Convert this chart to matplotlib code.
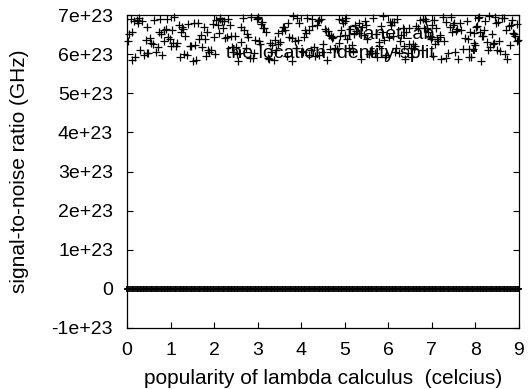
import matplotlib
matplotlib.use('Agg')
import matplotlib.pyplot as plt

plt.rcParams['font.family'] = ['Liberation Sans', 'DejaVu Sans']

# ---- data (y in units of 1e23) ----
x_planetlab = [
    0.05, 0.31, 0.62, 0.18, 0.84, 0.47, 0.12, 0.95, 0.28, 0.71,
    1.03, 1.37, 1.15, 1.62, 1.88, 1.24, 1.51, 1.79, 1.09, 1.44,
    2.02, 2.36, 2.61, 2.14, 2.89, 2.47, 2.73, 2.21, 2.95, 2.55,
    3.08, 3.33, 3.67, 3.19, 3.91, 3.42, 3.78, 3.26, 3.59, 3.85,
    4.04, 4.39, 4.68, 4.17, 4.92, 4.51, 4.26, 4.83, 4.60, 4.11,
    5.06, 5.34, 5.69, 5.21, 5.93, 5.47, 5.78, 5.13, 5.58, 5.87,
    6.01, 6.38, 6.64, 6.19, 6.91, 6.45, 6.72, 6.27, 6.55, 6.83,
    7.07, 7.32, 7.61, 7.18, 7.94, 7.49, 7.76, 7.25, 7.53, 7.88,
    8.03, 8.35, 8.66, 8.14, 8.92, 8.44, 8.71, 8.22, 8.57, 8.99,
    0.38, 0.77, 1.56, 1.97, 2.29, 2.82, 3.12, 3.51, 4.45, 4.77,
    5.27, 5.62, 6.08, 6.49, 7.02, 7.41, 7.83, 8.29, 8.61, 8.87,
    0.22, 0.56, 0.89, 1.31, 1.69, 2.08, 2.42, 2.67, 3.03, 3.37,
    3.72, 3.96, 4.22, 4.57, 4.88, 5.16, 5.41, 5.74, 6.11, 6.33,
    6.59, 6.87, 7.12, 7.37, 7.68, 7.97, 8.09, 8.39, 8.74, 8.95,
    0.09, 0.43, 0.67, 1.19, 1.48, 1.83, 2.18, 2.52, 2.78, 3.15,
    3.46, 3.82, 4.08, 4.33, 4.64, 4.97, 5.09, 5.52, 5.83, 6.16,
    6.42, 6.77, 7.05, 7.28, 7.57, 7.91, 8.18, 8.48, 8.79, 8.06,
    0.15, 0.52, 0.81, 1.27, 1.72, 2.11, 2.58, 2.98, 3.29, 3.63,
    4.01, 4.36, 4.73, 5.03, 5.38, 5.71, 6.04, 6.36, 6.69, 7.15,
    7.44, 7.72, 8.12, 8.41, 8.83, 0.99, 2.33, 4.48, 6.96, 8.53,
    0.02, 0.26, 0.49, 0.73, 0.93, 1.12, 1.34, 1.58, 1.76, 1.93,
    2.05, 2.26, 2.44, 2.69, 2.86, 3.06, 3.23, 3.48, 3.69, 3.88,
    4.06, 4.24, 4.42, 4.62, 4.86, 5.00, 5.19, 5.44, 5.65, 5.90,
    6.06, 6.24, 6.47, 6.62, 6.85, 7.00, 7.22, 7.46, 7.64, 7.86,
    8.01, 8.26, 8.46, 8.68, 8.90, 0.35, 0.60, 0.86, 1.22, 1.41,
    1.66, 1.86, 2.13, 2.40, 2.63, 2.92, 3.10, 3.39, 3.56, 3.80,
    4.13, 4.30, 4.54, 4.70, 4.94, 5.11, 5.32, 5.50, 5.80, 5.96,
    6.14, 6.30, 6.52, 6.80, 6.98, 7.10, 7.34, 7.55, 7.80, 7.99,
    8.16, 8.32, 8.50, 8.77, 8.97, 0.11, 0.45, 0.75, 1.05, 1.29,
    1.53, 1.81, 2.00, 2.24, 2.50, 2.76, 3.01, 3.31, 3.61, 3.93,
    4.19, 4.41, 4.66, 4.90, 5.24, 5.55, 5.85, 6.21, 6.57, 6.89,
    7.20, 7.52, 7.85, 8.20, 8.55, 8.85, 1.00, 3.00, 5.00, 7.00,
]
y_planetlab = [
    6.52, 6.11, 6.87, 5.93, 6.34, 6.71, 5.86, 6.45, 6.92, 6.18,
    6.63, 5.97, 6.28, 6.81, 6.07, 6.56, 5.84, 6.39, 6.95, 6.22,
    6.01, 6.74, 6.31, 6.89, 5.91, 6.48, 6.15, 6.67, 6.36, 5.82,
    6.77, 6.24, 5.95, 6.58, 6.93, 6.12, 6.42, 5.88, 6.69, 6.33,
    6.05, 6.84, 6.47, 5.99, 6.62, 6.27, 6.91, 6.14, 5.85, 6.55,
    6.38, 6.79, 6.03, 6.51, 5.92, 6.86, 6.21, 6.64, 6.09, 6.97,
    6.44, 5.89, 6.73, 6.17, 6.58, 6.02, 6.88, 6.35, 5.94, 6.66,
    6.26, 6.83, 5.87, 6.49, 6.13, 6.75, 6.41, 6.96, 6.06, 6.57,
    6.72, 6.19, 6.94, 5.83, 6.46, 6.29, 6.61, 6.85, 6.08, 6.37,
    5.98, 6.53, 6.23, 6.78, 6.43, 5.90, 6.68, 6.32, 6.89, 6.16,
    6.60, 6.04, 6.82, 6.25, 5.96, 6.70, 6.40, 6.11, 6.92, 6.54,
    6.87, 6.30, 6.65, 6.00, 6.50, 6.76, 6.19, 6.94, 6.34, 5.86,
    6.45, 6.80, 6.10, 6.59, 6.90, 6.23, 6.71, 5.93, 6.48, 6.67,
    6.14, 6.84, 6.39, 6.02, 6.62, 6.28, 6.95, 6.52, 5.89, 6.77,
    6.91, 6.36, 6.07, 6.74, 6.20, 6.56, 6.86, 6.01, 6.43, 6.68,
    6.27, 6.97, 6.63, 5.95, 6.49, 6.81, 6.15, 6.38, 6.72, 6.05,
    6.58, 6.12, 6.88, 6.33, 6.64, 5.92, 6.47, 6.79, 6.24, 6.93,
    6.85, 6.41, 5.98, 6.70, 6.18, 6.55, 6.03, 6.89, 6.30, 6.61,
    6.09, 6.76, 6.44, 6.92, 5.87, 6.51, 6.83, 6.22, 6.66, 6.35,
    6.96, 6.13, 6.57, 6.26, 6.75, 6.40, 6.90, 6.06, 6.46, 6.82,
    6.33, 6.79, 6.02, 6.58, 6.91, 6.20, 6.47, 5.85, 6.70, 6.12,
    6.88, 6.41, 6.06, 6.63, 6.96, 6.25, 5.90, 6.54, 6.81, 6.17,
    6.44, 6.73, 5.97, 6.60, 6.29, 6.86, 6.09, 6.50, 6.93, 6.37,
    6.75, 6.03, 6.66, 6.21, 6.89, 6.45, 5.88, 6.57, 6.80, 6.14,
    6.69, 6.32, 6.95, 6.00, 6.53, 6.86, 6.26, 6.62, 5.94, 6.77,
    6.40, 6.10, 6.92, 6.48, 6.71, 6.04, 6.83, 6.36, 6.59, 5.84,
    6.94, 6.19, 6.65, 6.42, 6.87, 6.08, 6.55, 6.74, 6.31, 5.99,
    6.82, 6.50, 6.16, 6.90, 6.39, 6.67, 5.91, 6.60, 6.85, 6.23,
    6.47, 6.97, 6.11, 6.72, 6.35, 6.58, 6.02, 6.89, 6.28, 6.64,
    6.79, 5.96, 6.43, 6.84, 6.18, 6.52, 6.93, 6.07, 6.70, 6.37,
    6.61, 6.88, 6.14, 6.46, 6.76, 6.01, 6.56, 6.91, 6.27, 6.68,
    6.44, 6.81, 5.93, 6.63, 6.34, 6.87, 6.22, 6.95, 6.49, 6.74,
]
x_split = [
    0.00, 0.03, 0.07, 0.11, 0.14, 0.18, 0.22, 0.25, 0.29, 0.33, 0.36, 0.40, 0.44, 0.47, 0.51,
    0.55, 0.58, 0.62, 0.66, 0.69, 0.73, 0.77, 0.80, 0.84, 0.88, 0.91, 0.95, 0.99, 1.02, 1.06,
    1.10, 1.13, 1.17, 1.21, 1.24, 1.28, 1.32, 1.35, 1.39, 1.43, 1.46, 1.50, 1.54, 1.57, 1.61,
    1.65, 1.68, 1.72, 1.76, 1.79, 1.83, 1.87, 1.90, 1.94, 1.98, 2.01, 2.05, 2.09, 2.12, 2.16,
    2.20, 2.23, 2.27, 2.31, 2.34, 2.38, 2.42, 2.45, 2.49, 2.53, 2.56, 2.60, 2.64, 2.67, 2.71,
    2.75, 2.78, 2.82, 2.86, 2.89, 2.93, 2.97, 3.00, 3.04, 3.08, 3.11, 3.15, 3.19, 3.22, 3.26,
    3.30, 3.33, 3.37, 3.41, 3.44, 3.48, 3.52, 3.55, 3.59, 3.63, 3.66, 3.70, 3.74, 3.77, 3.81,
    3.85, 3.88, 3.92, 3.96, 3.99, 4.03, 4.07, 4.10, 4.14, 4.18, 4.21, 4.25, 4.29, 4.32, 4.36,
    4.40, 4.43, 4.47, 4.51, 4.54, 4.58, 4.62, 4.65, 4.69, 4.73, 4.76, 4.80, 4.84, 4.87, 4.91,
    4.95, 4.98, 5.02, 5.06, 5.09, 5.13, 5.17, 5.20, 5.24, 5.28, 5.31, 5.35, 5.39, 5.42, 5.46,
    5.50, 5.53, 5.57, 5.61, 5.64, 5.68, 5.72, 5.75, 5.79, 5.83, 5.86, 5.90, 5.94, 5.97, 6.01,
    6.05, 6.08, 6.12, 6.16, 6.19, 6.23, 6.27, 6.30, 6.34, 6.38, 6.41, 6.45, 6.49, 6.52, 6.56,
    6.60, 6.63, 6.67, 6.71, 6.74, 6.78, 6.82, 6.85, 6.89, 6.93, 6.96, 7.00, 7.04, 7.07, 7.11,
    7.15, 7.18, 7.22, 7.26, 7.29, 7.33, 7.37, 7.40, 7.44, 7.48, 7.51, 7.55, 7.59, 7.62, 7.66,
    7.70, 7.73, 7.77, 7.81, 7.84, 7.88, 7.92, 7.95, 7.99, 8.03, 8.06, 8.10, 8.14, 8.17, 8.21,
    8.25, 8.28, 8.32, 8.36, 8.39, 8.43, 8.47, 8.50, 8.54, 8.58, 8.61, 8.65, 8.69, 8.72, 8.76,
    8.80, 8.83, 8.87, 8.91, 8.94, 8.98, 9.00,
]
y_split = [0.0] * len(x_split)

y_ticks = [-1, 0, 1, 2, 3, 4, 5, 6, 7]
y_tick_labels = ['-1e+23', '0', '1e+23', '2e+23', '3e+23', '4e+23',
                 '5e+23', '6e+23', '7e+23']
x_ticks = [0, 1, 2, 3, 4, 5, 6, 7, 8, 9]

fig = plt.figure(figsize=(5.28, 3.89), dpi=100)
ax = fig.add_axes([0.2405, 0.157, 0.742, 0.804])

ax.plot(x_planetlab, y_planetlab, '+', color='black', ms=6, mew=0.9,
        clip_on=False, label='PlanetLab')
ax.plot(x_split, y_split, '+', color='black', ms=4, mew=1.3,
        clip_on=False, label='the location-identity split')

ax.set_xlim(0, 9)
ax.set_ylim(-1, 7)
ax.set_xticks(x_ticks)
ax.set_yticks(y_ticks)
ax.set_yticklabels(y_tick_labels)
ax.tick_params(direction='in', length=4, width=0.8, labelsize=14,
               top=True, right=True)
ax.tick_params(axis='x', pad=10)
ax.tick_params(axis='y', pad=10)
for s in ax.spines.values():
    s.set_linewidth(0.9)

ax.set_xlabel('popularity of lambda calculus  (celcius)', fontsize=15)
ax.set_ylabel('signal-to-noise ratio (GHz)', fontsize=15)
ax.xaxis.set_label_coords(0.5, -0.13)
ax.yaxis.set_label_coords(-0.25, 0.5)

ax.legend(loc='upper right', bbox_to_anchor=(0.968, 0.991), frameon=False,
          markerfirst=False, fontsize=14, handletextpad=0.8,
          borderaxespad=0.0, labelspacing=0.05, handlelength=2.5)

fig.savefig('out.png', dpi=100)
